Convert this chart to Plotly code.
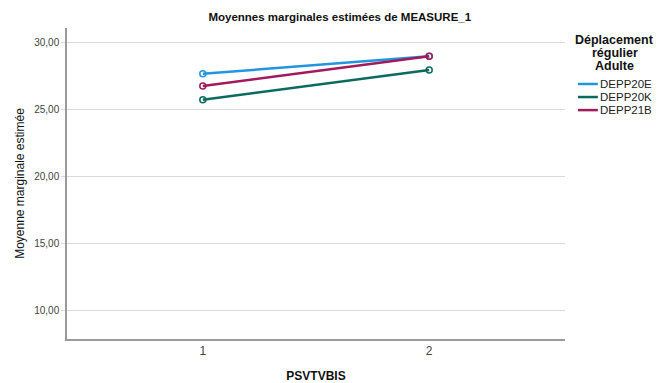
import plotly.graph_objects as go

# data
psvtvbis = [1, 2]
series_names = ["DEPP20E", "DEPP20K", "DEPP21B"]
depp20e = [27.68, 28.98]
depp20k = [25.74, 27.96]
depp21b = [26.77, 28.99]
y_ticks = [10, 15, 20, 25, 30]
legend_title = ["Déplacement", "régulier", "Adulte"]

colors = {"DEPP20E": "#2196E0", "DEPP20K": "#0B6A5E", "DEPP21B": "#A21A5B"}
values = {"DEPP20E": depp20e, "DEPP20K": depp20k, "DEPP21B": depp21b}

fig = go.Figure()
for name in series_names:
    fig.add_trace(go.Scatter(
        x=psvtvbis, y=values[name], name=name, mode="lines+markers",
        line=dict(color=colors[name], width=2.5),
        marker=dict(symbol="circle-open", size=6, color=colors[name], line=dict(width=1.5)),
        showlegend=False,
    ))

# hand-made legend (compact like the original)
for i, line in enumerate(legend_title):
    fig.add_annotation(x=1.1, y=0.961 - i * 0.0415, xref="paper", yref="paper",
                       xanchor="center", yanchor="middle", text="<b>" + line + "</b>",
                       showarrow=False, font=dict(size=12.5, color="#111"))
for i, name in enumerate(series_names):
    ypos = 0.82 - i * 0.042
    fig.add_shape(type="line", xref="paper", yref="paper", x0=1.026, x1=1.066, y0=ypos, y1=ypos,
                  line=dict(color=colors[name], width=2.5))
    fig.add_annotation(x=1.067, y=ypos, xref="paper", yref="paper", xanchor="left", yanchor="middle",
                       text=name, showarrow=False, font=dict(size=11.5, color="#222"))

fig.update_layout(
    width=661, height=383,
    margin=dict(l=67, r=96, t=28, b=44),
    paper_bgcolor="white", plot_bgcolor="white",
    font=dict(family="Liberation Sans, Arial, sans-serif", color="#333"),
    separators=", ",
    title=dict(text="<b>Moyennes marginales estimées de MEASURE_1</b>", x=0.514, xanchor="center",
               y=0.955, yanchor="middle", font=dict(size=11.5, color="#111")),
)
fig.update_xaxes(range=[0.4, 2.6], tickvals=psvtvbis, ticktext=[str(v) for v in psvtvbis],
                 showgrid=False, zeroline=False, showline=True, linecolor="#9a9a9a", linewidth=1.5,
                 tickfont=dict(size=12, color="#444"), ticks="", automargin=False,
                 title=dict(text="<b>PSVTVBIS</b>", font=dict(size=12, color="#111"), standoff=15))
fig.update_yaxes(range=[7.85, 31.1], tickvals=y_ticks, tickformat=".2f",
                 showgrid=True, gridcolor="#d9d9d9", gridwidth=1, zeroline=False,
                 showline=True, linecolor="#9a9a9a", linewidth=1.5,
                 ticks="outside", ticklen=4, tickcolor="#d9d9d9", automargin=False,
                 tickfont=dict(size=10, color="#444"),
                 title=dict(text="Moyenne marginale estimée", font=dict(size=12, color="#111"), standoff=7))

fig.write_html("out.html", config={"displayModeBar": False},
               post_script="document.body.style.margin='0';")
